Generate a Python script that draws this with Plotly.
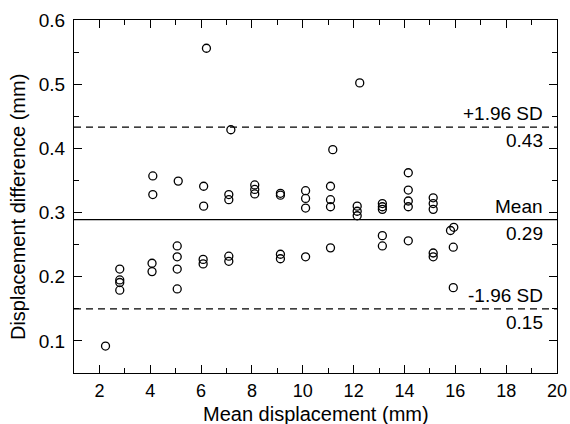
import plotly.graph_objects as go

# Data (mean displacement, displacement difference)
mean_disp = [2.24,
             2.80, 2.80, 2.80, 2.80,
             4.10, 4.10, 4.07, 4.07,
             5.10, 5.06, 5.06, 5.06, 5.06,
             6.10, 6.10, 6.08, 6.08, 6.21,
             7.09, 7.09, 7.09, 7.09, 7.17,
             8.11, 8.11, 8.11,
             9.12, 9.12, 9.12, 9.12,
             10.11, 10.11, 10.11, 10.11,
             11.09, 11.09, 11.09, 11.09, 11.18,
             12.14, 12.14, 12.14, 12.24,
             13.13, 13.13, 13.13, 13.13, 13.13,
             14.15, 14.15, 14.15, 14.15, 14.15,
             15.13, 15.13, 15.13, 15.13, 15.13,
             15.81, 15.94, 15.92, 15.92]
disp_diff = [0.092,
             0.212, 0.195, 0.191, 0.179,
             0.357, 0.328, 0.221, 0.208,
             0.349, 0.248, 0.231, 0.212, 0.181,
             0.341, 0.310, 0.227, 0.220, 0.556,
             0.328, 0.320, 0.232, 0.224, 0.429,
             0.343, 0.336, 0.329,
             0.330, 0.327, 0.235, 0.228,
             0.334, 0.322, 0.307, 0.231,
             0.341, 0.320, 0.309, 0.245, 0.398,
             0.310, 0.302, 0.295, 0.502,
             0.314, 0.309, 0.305, 0.264, 0.248,
             0.362, 0.335, 0.318, 0.309, 0.256,
             0.323, 0.314, 0.305, 0.237, 0.231,
             0.272, 0.277, 0.246, 0.183]

mean_line = 0.289
upper_loa = 0.433
lower_loa = 0.150

line_labels = [("+1.96 SD", "0.43", upper_loa),
               ("Mean", "0.29", mean_line),
               ("-1.96 SD", "0.15", lower_loa)]

x_title = "Mean displacement (mm)"
y_title = "Displacement difference (mm)"

FONT = "Liberation Sans, Arial, sans-serif"

fig = go.Figure()
fig.add_trace(go.Scatter(
    x=mean_disp, y=disp_diff, mode="markers",
    marker=dict(symbol="circle-open", size=8, color="black",
                line=dict(color="black", width=1.3)),
    showlegend=False, hoverinfo="x+y"))

fig.add_shape(type="line", xref="paper", yref="y", x0=0, x1=1,
              y0=mean_line, y1=mean_line, line=dict(color="black", width=1.3))
for yv in (upper_loa, lower_loa):
    fig.add_shape(type="line", xref="paper", yref="y", x0=0, x1=1,
                  y0=yv, y1=yv, line=dict(color="black", width=1.3, dash="7px,5px"))

for top, bottom, yv in line_labels:
    fig.add_annotation(text=top, xref="paper", yref="y", x=0.975, y=yv,
                       xanchor="right", yanchor="bottom", showarrow=False,
                       yshift=1, font=dict(size=19, color="black", family=FONT))
    fig.add_annotation(text=bottom, xref="paper", yref="y", x=0.975, y=yv,
                       xanchor="right", yanchor="top", showarrow=False,
                       yshift=-1, font=dict(size=19, color="black", family=FONT))

# axis titles
fig.add_annotation(text=x_title, xref="paper", yref="paper", x=0.5, y=-0.116,
                   xanchor="center", yanchor="middle", showarrow=False,
                   font=dict(size=20, color="black", family=FONT))
fig.add_annotation(text=y_title, xref="paper", yref="paper", x=-0.116, y=0.47,
                   xanchor="center", yanchor="middle", showarrow=False, textangle=-90,
                   font=dict(size=20, color="black", family=FONT))

axis_common = dict(showline=True, linecolor="black", linewidth=1.3, mirror="ticks",
                   ticks="inside", ticklen=8, tickwidth=1.2, tickcolor="black",
                   showgrid=False, zeroline=False, automargin=False)

fig.update_xaxes(range=[1, 20], tick0=0, dtick=2, ticklabelstandoff=1,
                 tickfont=dict(size=18, color="black", family=FONT),
                 minor=dict(dtick=1, ticks="inside", ticklen=5, tickcolor="black", tickwidth=1.2),
                 **axis_common)
fig.update_yaxes(range=[0.05, 0.6], tick0=0, dtick=0.1, tickformat=".1f", ticklabelstandoff=4,
                 tickfont=dict(size=19, color="black", family=FONT),
                 minor=dict(dtick=0.05, ticks="inside", ticklen=5, tickcolor="black", tickwidth=1.2),
                 **axis_common)

fig.update_layout(width=570, height=424,
                  margin=dict(l=74, r=13, t=20, b=51),
                  plot_bgcolor="white", paper_bgcolor="white",
                  font=dict(family=FONT, color="black"))

fig.write_html("out.html")
